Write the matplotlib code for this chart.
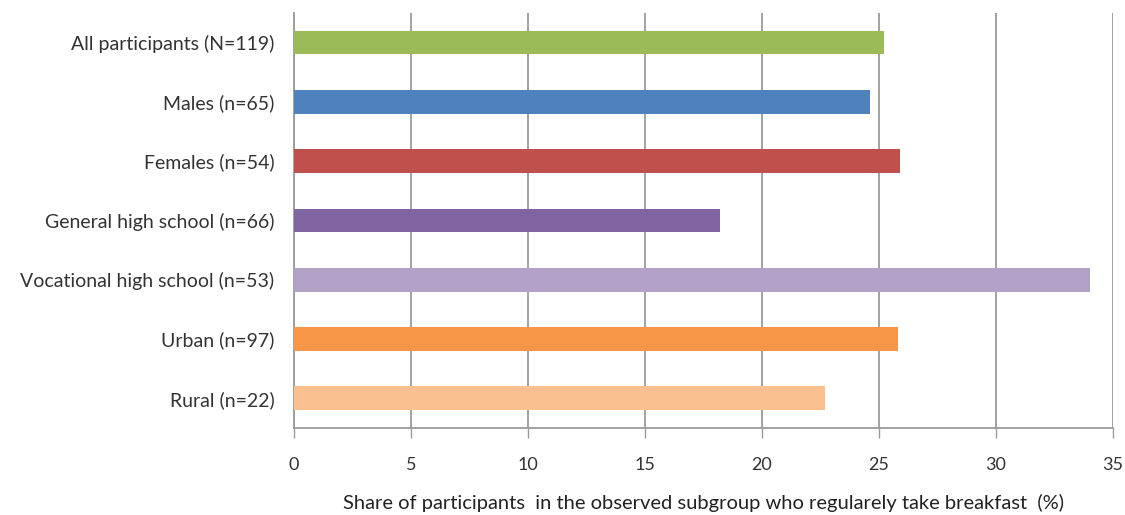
import matplotlib
matplotlib.use("Agg")
import matplotlib.pyplot as plt

categories = [
    "All participants (N=119)",
    "Males (n=65)",
    "Females (n=54)",
    "General high school (n=66)",
    "Vocational high school (n=53)",
    "Urban (n=97)",
    "Rural (n=22)",
]
shares = [25.2, 24.6, 25.9, 18.2, 34.0, 25.8, 22.7]
colors = ["#9BBB59", "#4F81BD", "#C0504D", "#8064A2", "#B2A2C7", "#F79646", "#FAC090"]
x_ticks = [0, 5, 10, 15, 20, 25, 30, 35]
x_label = "Share of participants  in the observed subgroup who regularely take breakfast  (%)"

plt.rcParams["font.family"] = ["Lato", "DejaVu Sans"]
text_color = "#333333"
grid_color = "#9A9A9A"

fig = plt.figure(figsize=(11.25, 5.15), dpi=100)
ax = fig.add_axes([0.2613, 0.169, 0.728, 0.806])

positions = list(range(len(categories)))
ax.barh(positions, shares, height=0.40, color=colors, zorder=3)

ax.set_ylim(len(categories) - 0.5, -0.5)
ax.set_xlim(0, 35)
ax.set_xticks(x_ticks)
ax.set_xticklabels([str(t) for t in x_ticks], fontsize=13, color=text_color)
ax.set_yticks(positions)
ax.set_yticklabels(categories, fontsize=14, color=text_color)

ax.grid(axis="x", color=grid_color, linewidth=1.3, zorder=0)
for side in ("top", "right"):
    ax.spines[side].set_visible(False)
ax.spines["left"].set_color(grid_color)
ax.spines["left"].set_linewidth(1.3)
ax.spines["bottom"].set_color(grid_color)
ax.spines["bottom"].set_linewidth(1.3)

ax.tick_params(axis="y", length=0, pad=14)
ax.tick_params(axis="x", length=7, width=1.0, color=grid_color, pad=14)

ax.set_xlabel(x_label, fontsize=14.5, color="#222222", labelpad=15)

fig.savefig("out.png", dpi=100, facecolor="white")
